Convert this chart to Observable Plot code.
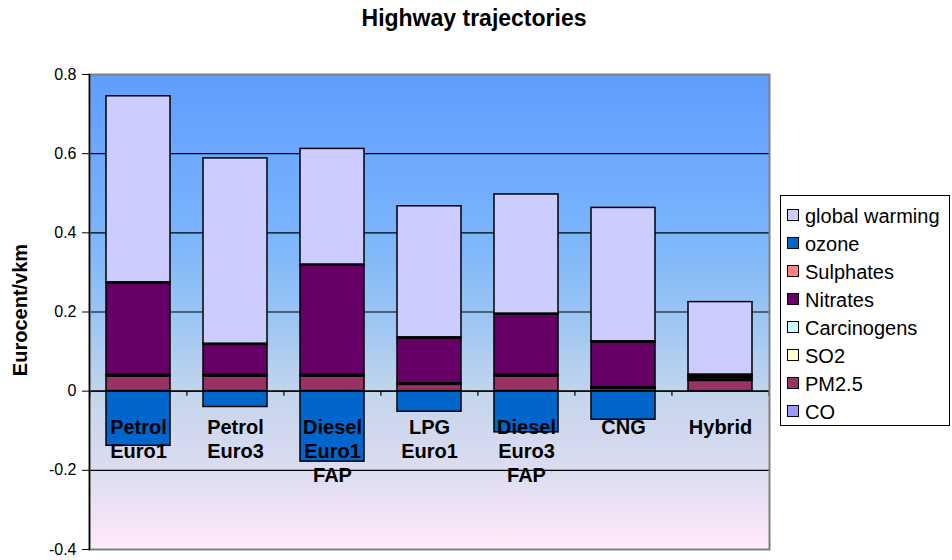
<!DOCTYPE html>
<html>
<head>
<meta charset="utf-8">
<script src="https://cdn.jsdelivr.net/npm/d3@7"></script>
<script src="https://cdn.jsdelivr.net/npm/@observablehq/plot@0.6"></script>
<style>
  html, body { margin: 0; padding: 0; background: #fff; }
  #wrap { position: relative; width: 952px; height: 560px; font-family: "Liberation Sans", Arial, sans-serif; color: #000; overflow: hidden; }
  #wrap svg { position: absolute; left: 0; top: 0; }
  #title { position: absolute; left: 0; width: 948px; top: 4px; text-align: center; font-weight: bold; font-size: 23px; line-height: 28px; }
  #ytitle { position: absolute; left: 20px; top: 310px; transform: translate(-50%, -50%) rotate(-90deg); font-weight: bold; font-size: 20px; white-space: nowrap; }
  #legend { position: absolute; left: 780px; top: 195px; width: 168px; height: 229px; border: 1px solid #000; background: #fff; }
  .li { position: absolute; left: 6px; height: 28px; line-height: 28px; font-size: 20px; white-space: nowrap; }
  .sw { display: inline-block; width: 10px; height: 10px; border: 1px solid #000; vertical-align: middle; margin-right: 6px; position: relative; top: -2px; }
</style>
</head>
<body>
<div id="wrap">
  <div id="title">Highway trajectories</div>
</div>
<script>
// Categories (x axis labels)
const vehicles = ["Petrol\nEuro1", "Petrol\nEuro3", "Diesel\nEuro1\nFAP", "LPG\nEuro1", "Diesel\nEuro3\nFAP", "CNG", "Hybrid"];
// Series in stacking order (bottom to top)
const seriesNames = ["CO", "PM2.5", "SO2", "Carcinogens", "Nitrates", "Sulphates", "ozone", "global warming"];
const seriesColors = ["#9999ff", "#993366", "#ffffcc", "#ccffff", "#660066", "#ff8080", "#0066cc", "#ccccff"];
// Legend order (top to bottom)
const legendOrder = ["global warming", "ozone", "Sulphates", "Nitrates", "Carcinogens", "SO2", "PM2.5", "CO"];
// Values (Eurocent/vkm), one per vehicle
const CO            = [0, 0, 0, 0, 0, 0, 0];
const PM25          = [0.037, 0.037, 0.037, 0.016, 0.037, 0.006, 0.026];
const SO2           = [0.002, 0.002, 0.002, 0.002, 0.002, 0.002, 0.004];
const Carcinogens   = [0.002, 0.002, 0.002, 0.002, 0.002, 0.002, 0.004];
const Nitrates      = [0.231, 0.076, 0.276, 0.113, 0.152, 0.113, 0.004];
const Sulphates     = [0.003, 0.003, 0.003, 0.003, 0.003, 0.003, 0.004];
const ozone         = [-0.138, -0.040, -0.178, -0.052, -0.104, -0.072, 0];
const globalWarming = [0.470, 0.468, 0.292, 0.331, 0.301, 0.337, 0.183];
const yTicks = [-0.4, -0.2, 0, 0.2, 0.4, 0.6, 0.8];

const seriesValues = [CO, PM25, SO2, Carcinogens, Nitrates, Sulphates, ozone, globalWarming];
const data = [];
vehicles.forEach((v, i) => {
  seriesNames.forEach((s, j) => data.push({vehicle: v, series: s, value: seriesValues[j][i]}));
});

const W = 952, H = 560;
const mL = 89, mR = 183, mT = 74, mB = 11;
const step = (W - mL - mR) / vehicles.length;

const bgDefs = () => {
  const defs = d3.create("svg:defs");
  const g = defs.append("linearGradient").attr("id", "bg").attr("x1", 0).attr("x2", 0).attr("y1", 0).attr("y2", 1);
  [[0, "#5f9dff"], [0.33, "#79b4fc"], [0.52, "#9dc6f3"], [0.67, "#c3d5ec"], [0.83, "#dcdcf0"], [1, "#ffe9f9"]]
    .forEach(([o, c]) => g.append("stop").attr("offset", o).attr("stop-color", c));
  return defs.node();
};

const plot = Plot.plot({
  width: W,
  height: H,
  marginLeft: mL,
  marginRight: mR,
  marginTop: mT,
  marginBottom: mB,
  style: {fontFamily: "Liberation Sans, Arial, sans-serif", fontSize: "16px", color: "#000", background: "transparent"},
  x: {domain: vehicles, paddingInner: 0.34, paddingOuter: 0.17, axis: null, label: null},
  y: {domain: [-0.4, 0.8], axis: null, label: null},
  color: {domain: seriesNames, range: seriesColors},
  marks: [
    bgDefs,
    Plot.frame({fill: "url(#bg)"}),
    Plot.gridY(yTicks, {stroke: "#000", strokeOpacity: 1, strokeWidth: 1.2}),
    Plot.barY(data, {x: "vehicle", y: "value", fill: "series", stroke: "#000", strokeWidth: 1.5, order: seriesNames}),
    Plot.ruleY([0], {stroke: "#000", strokeWidth: 1.2}),
    Plot.ruleX(vehicles, {x: d => d, y1: 0, y2: -0.013, dx: -step / 2, stroke: "#000", strokeWidth: 1.2}),
    Plot.ruleX(vehicles.slice(-1), {x: d => d, y1: 0, y2: -0.013, dx: step / 2, stroke: "#000", strokeWidth: 1.2}),
    Plot.text(vehicles, {x: d => d, y: 0, text: d => d, dy: 26, lineAnchor: "top", lineHeight: 1.2, fontSize: 20, fontWeight: "bold", fill: "#000"}),
    Plot.frame({stroke: "#808080", strokeWidth: 2}),
    Plot.frame({anchor: "left", stroke: "#000", strokeWidth: 1.5}),
    Plot.axisY(yTicks, {tickSize: 7, tickPadding: 6, tickFormat: d => String(+d.toFixed(1)), fontSize: 16, stroke: "#000", label: null})
  ]
});
const wrap = document.getElementById("wrap");
wrap.insertBefore(plot, wrap.firstChild);

const yt = document.createElement("div");
yt.id = "ytitle";
yt.textContent = "Eurocent/vkm";
wrap.appendChild(yt);

const legend = document.createElement("div");
legend.id = "legend";
legendOrder.forEach((name, i) => {
  const row = document.createElement("div");
  row.className = "li";
  row.style.top = (5.5 + 28 * i) + "px";
  const sw = document.createElement("span");
  sw.className = "sw";
  sw.style.background = seriesColors[seriesNames.indexOf(name)];
  row.appendChild(sw);
  row.appendChild(document.createTextNode(name));
  legend.appendChild(row);
});
wrap.appendChild(legend);
</script>
</body>
</html>
